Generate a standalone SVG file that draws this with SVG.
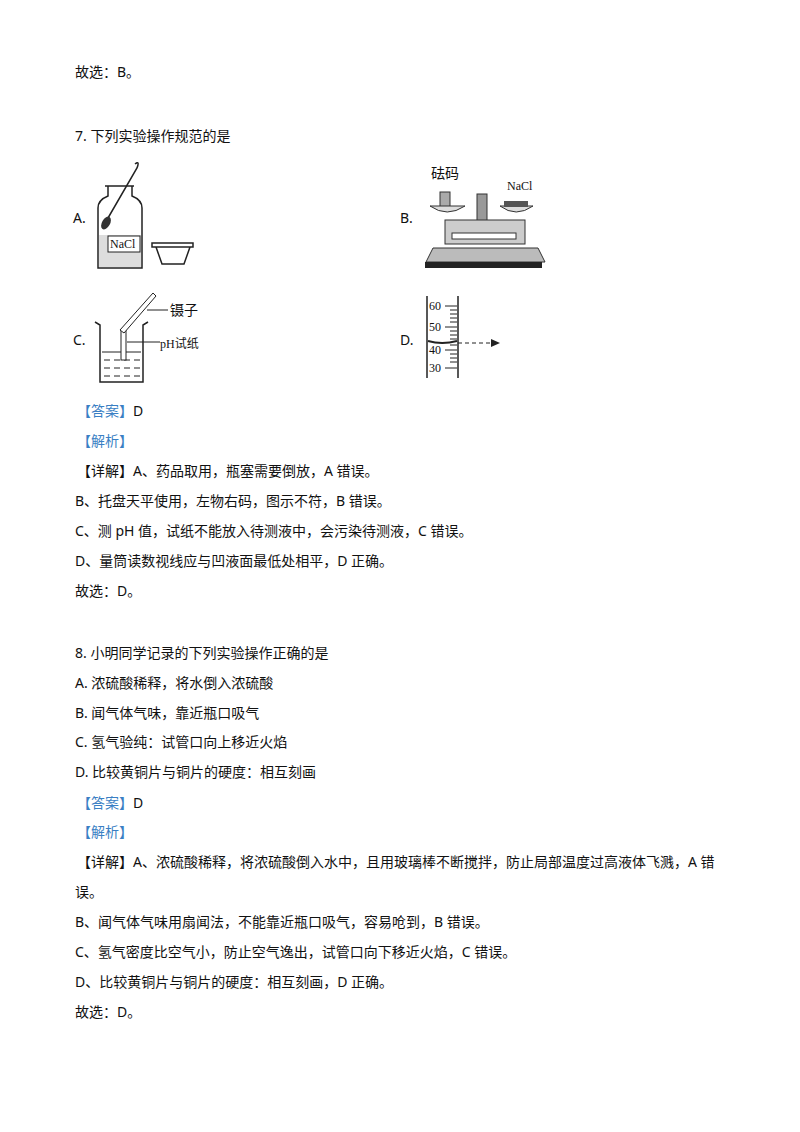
<svg xmlns="http://www.w3.org/2000/svg" width="800" height="1132" viewBox="0 0 800 1132">
<style>
text{font-family:"Noto Sans","Noto Sans CJK SC",sans-serif;font-size:14px;fill:#111}
.b{fill:#3a7fc4}
.s{font-family:"Liberation Serif","Noto Sans CJK SC",serif;font-size:12px}
.l{fill:none;stroke:#222;stroke-width:1.5}
.t{stroke:#222;stroke-width:1}
</style>
<rect width="800" height="1132" fill="#fff"/>
<g id="text">
<text x="75" y="77">故选：B。</text>
<text x="75" y="141">7. 下列实验操作规范的是</text>
<text x="73" y="223">A.</text>
<text x="400" y="223">B.</text>
<text x="73" y="345">C.</text>
<text x="400" y="345">D.</text>
<text x="77" y="416"><tspan class="b">【答案】</tspan>D</text>
<text x="77" y="446" class="b">【解析】</text>
<text x="77" y="476">【详解】A、药品取用，瓶塞需要倒放，A 错误。</text>
<text x="75" y="506">B、托盘天平使用，左物右码，图示不符，B 错误。</text>
<text x="75" y="536">C、测 pH 值，试纸不能放入待测液中，会污染待测液，C 错误。</text>
<text x="75" y="566">D、量筒读数视线应与凹液面最低处相平，D 正确。</text>
<text x="75" y="596">故选：D。</text>
<text x="75" y="658">8. 小明同学记录的下列实验操作正确的是</text>
<text x="75" y="688">A. 浓硫酸稀释，将水倒入浓硫酸</text>
<text x="75" y="718">B. 闻气体气味，靠近瓶口吸气</text>
<text x="75" y="747">C. 氢气验纯：试管口向上移近火焰</text>
<text x="75" y="777">D. 比较黄铜片与铜片的硬度：相互刻画</text>
<text x="77" y="808"><tspan class="b">【答案】</tspan>D</text>
<text x="77" y="837" class="b">【解析】</text>
<text x="77" y="867">【详解】A、浓硫酸稀释，将浓硫酸倒入水中，且用玻璃棒不断搅拌，防止局部温度过高液体飞溅，A 错</text>
<text x="75" y="897">误。</text>
<text x="75" y="927">B、闻气体气味用扇闻法，不能靠近瓶口吸气，容易呛到，B 错误。</text>
<text x="75" y="957">C、氢气密度比空气小，防止空气逸出，试管口向下移近火焰，C 错误。</text>
<text x="75" y="987">D、比较黄铜片与铜片的硬度：相互刻画，D 正确。</text>
<text x="75" y="1017">故选：D。</text>
</g>
<g id="figA">
<path class="l" d="M105,186 L134,186 M108,186 L108,196 Q98,200 98,208 L98,268 L142,268 L142,208 Q142,200 132,196 L132,186"/>
<rect x="99" y="235" width="42" height="32" fill="#ddd"/>
<rect x="108" y="236" width="32" height="16" fill="#fff" stroke="#222"/>
<text x="110" y="248" class="s">NaCl</text>
<path class="l" d="M135,164 Q140,160 137,168 L108,218"/>
<ellipse cx="106" cy="223" rx="4" ry="7" fill="#333" transform="rotate(30 106 223)"/>
<path class="l" d="M152,243 L193,243 L193,247 L152,247 Z M156,247 L162,264 L184,264 L190,247"/>
</g>
<g id="figB">
<text x="431" y="178" font-size="13">砝码</text>
<text x="507" y="190" class="s" font-size="13">NaCl</text>
<rect x="440" y="192" width="10" height="17" fill="#aaa" stroke="#333"/>
<path d="M430,206 Q447,218 465,206 Z" fill="#ddd" stroke="#333"/>
<path d="M500,206 Q516,218 533,206 Z" fill="#ddd" stroke="#333"/>
<rect x="504" y="201" width="24" height="6" fill="#555"/>
<rect x="477" y="194" width="10" height="30" fill="#999" stroke="#333"/>
<rect x="445" y="220" width="80" height="24" fill="#ccc" stroke="#333"/>
<rect x="452" y="233" width="64" height="6" fill="#fff" stroke="#333"/>
<path d="M433,248 L538,248 L545,262 L426,262 Z" fill="#bbb" stroke="#333"/>
<rect x="425" y="262" width="117" height="6" fill="#222"/>
</g>
<g id="figC">
<path class="l" d="M95,322 L100,325 L100,382 L143,382 L143,325 L148,322"/>
<rect x="101" y="352" width="41" height="29" fill="#fff"/>
<path d="M102,352 L141,352" class="t"/>
<path d="M104,360 h6 m4 0 h6 m4 0 h6 m4 0 h6 M104,368 h6 m4 0 h6 m4 0 h6 m4 0 h6 M104,376 h6 m4 0 h6 m4 0 h6 m4 0 h6" class="t"/>
<rect x="121" y="330" width="5" height="30" fill="#fff" stroke="#222"/>
<path d="M120,330 L153,293 L156,296 L124,333 Z" fill="#fff" stroke="#222"/>
<path class="t" d="M147,310 L168,310 M127,342 L160,342"/>
<text x="170" y="315" font-size="13">镊子</text>
<text x="160" y="348" class="s" font-size="13">pH<tspan font-family="Noto Sans CJK SC">试纸</tspan></text>
</g>
<g id="figD">
<path class="l" d="M427,296 L427,378 M458,296 L458,378"/>
<path class="t" d="M445,306 h12 M450,310 h7 M450,314 h7 M450,318 h7 M450,322 h7 M445,327 h12 M450,331 h7 M450,335 h7 M450,339 h7 M450,345 h7 M445,350 h12 M450,354 h7 M450,358 h7 M450,362 h7 M445,368 h12"/>
<text x="429" y="310" class="s">60</text>
<text x="429" y="331" class="s">50</text>
<text x="429" y="354" class="s">40</text>
<text x="429" y="372" class="s">30</text>
<path d="M428,341 Q442,345 457,341" stroke="#222" stroke-width="2" fill="none"/>
<path d="M458,343 L490,343" stroke="#222" stroke-dasharray="4,3"/>
<path d="M491,339 L500,343 L491,347 Z" fill="#222"/>
</g>
</svg>
